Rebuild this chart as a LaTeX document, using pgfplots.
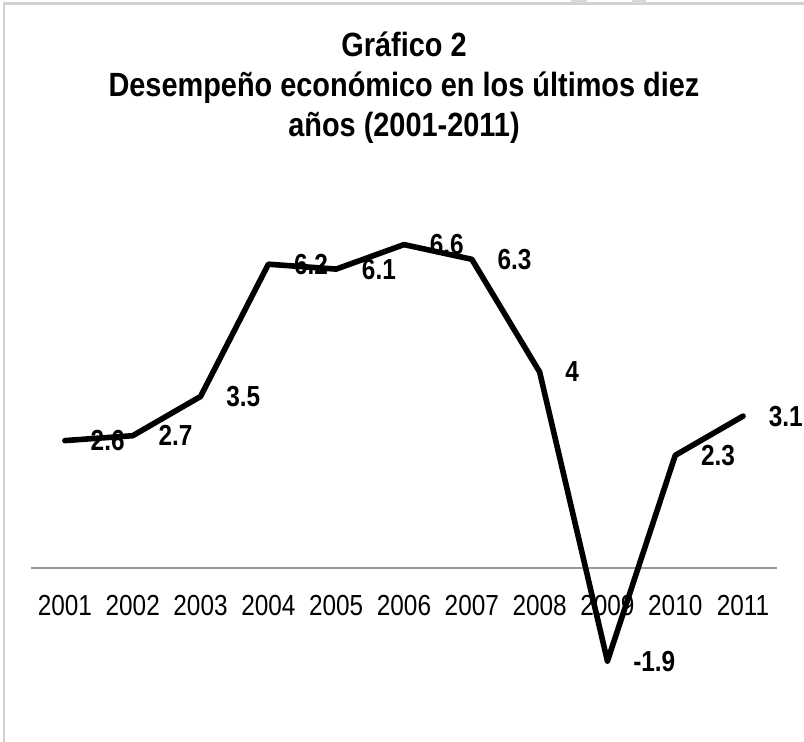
\documentclass[border=0pt]{standalone}
\usepackage{fontspec}
\setmainfont{Liberation Sans}[FakeStretch=0.84]
\newfontfamily\titlefont{Liberation Sans}[FakeStretch=0.86]
\usepackage{pgfplots}
\usepackage{pgfplotstable}
\pgfplotsset{compat=1.18}

\pgfplotstableread{
x  y    label
1  2.6  2.6
2  2.7  2.7
3  3.5  3.5
4  6.2  6.2
5  6.1  6.1
6  6.6  6.6
7  6.3  6.3
8  4    4
9  -1.9 -1.9
10 2.3  2.3
11 3.1  3.1
}\crecimiento

\begin{document}
\begin{tikzpicture}
\useasboundingbox (0,0) rectangle (402pt,-371pt);
% marco del grafico
\draw[black!18, line width=1.2pt] (2pt,-371pt) -- (2pt,-1.8pt) -- (402pt,-1.8pt);
\fill[black!15] (285pt,0) -- (294pt,0) -- (292pt,-1.5pt) -- (287pt,-1.5pt) -- cycle;
\fill[black!15] (316pt,0) -- (323pt,0) -- (323pt,-1.5pt) -- (316pt,-1.5pt) -- cycle;

\begin{axis}[
    at={(15.5pt,-345.25pt)}, anchor=south west,
    scale only axis,
    width=373pt, height=245pt,
    xmin=0.5, xmax=11.5,
    ymin=-2.5, ymax=7.5,
    axis x line*=middle,
    axis y line=none,
    x axis line style={color=black!40, line width=1pt},
    xtick={1,...,11},
    xticklabels={2001,2002,2003,2004,2005,2006,2007,2008,2009,2010,2011},
    major tick length=0pt,
    xticklabel style={anchor=base, yshift=-23.5pt, inner sep=0pt,
        font=\fontsize{14.5}{16}\selectfont},
    clip=false,
    ]
\addplot[black, line width=2.8pt, line cap=round, line join=round,
    point meta=explicit symbolic,
    nodes near coords={\textbf{\pgfplotspointmeta}},
    every node near coord/.append style={anchor=west, inner sep=0pt,
        xshift=11.5pt, font=\fontsize{14.5}{16}\selectfont},
    ] table[x=x, y=y, meta=label] {\crecimiento};
\end{axis}

\begin{scope}[font=\titlefont\bfseries\fontsize{16.8}{18}\selectfont]
\node[anchor=base] at (202pt,-28.5pt) {Gráfico 2};
\node[anchor=base] at (202pt,-48.5pt) {Desempeño económico en los últimos diez};
\node[anchor=base] at (202pt,-68.5pt) {años (2001-2011)};
\end{scope}
\end{tikzpicture}
\end{document}
